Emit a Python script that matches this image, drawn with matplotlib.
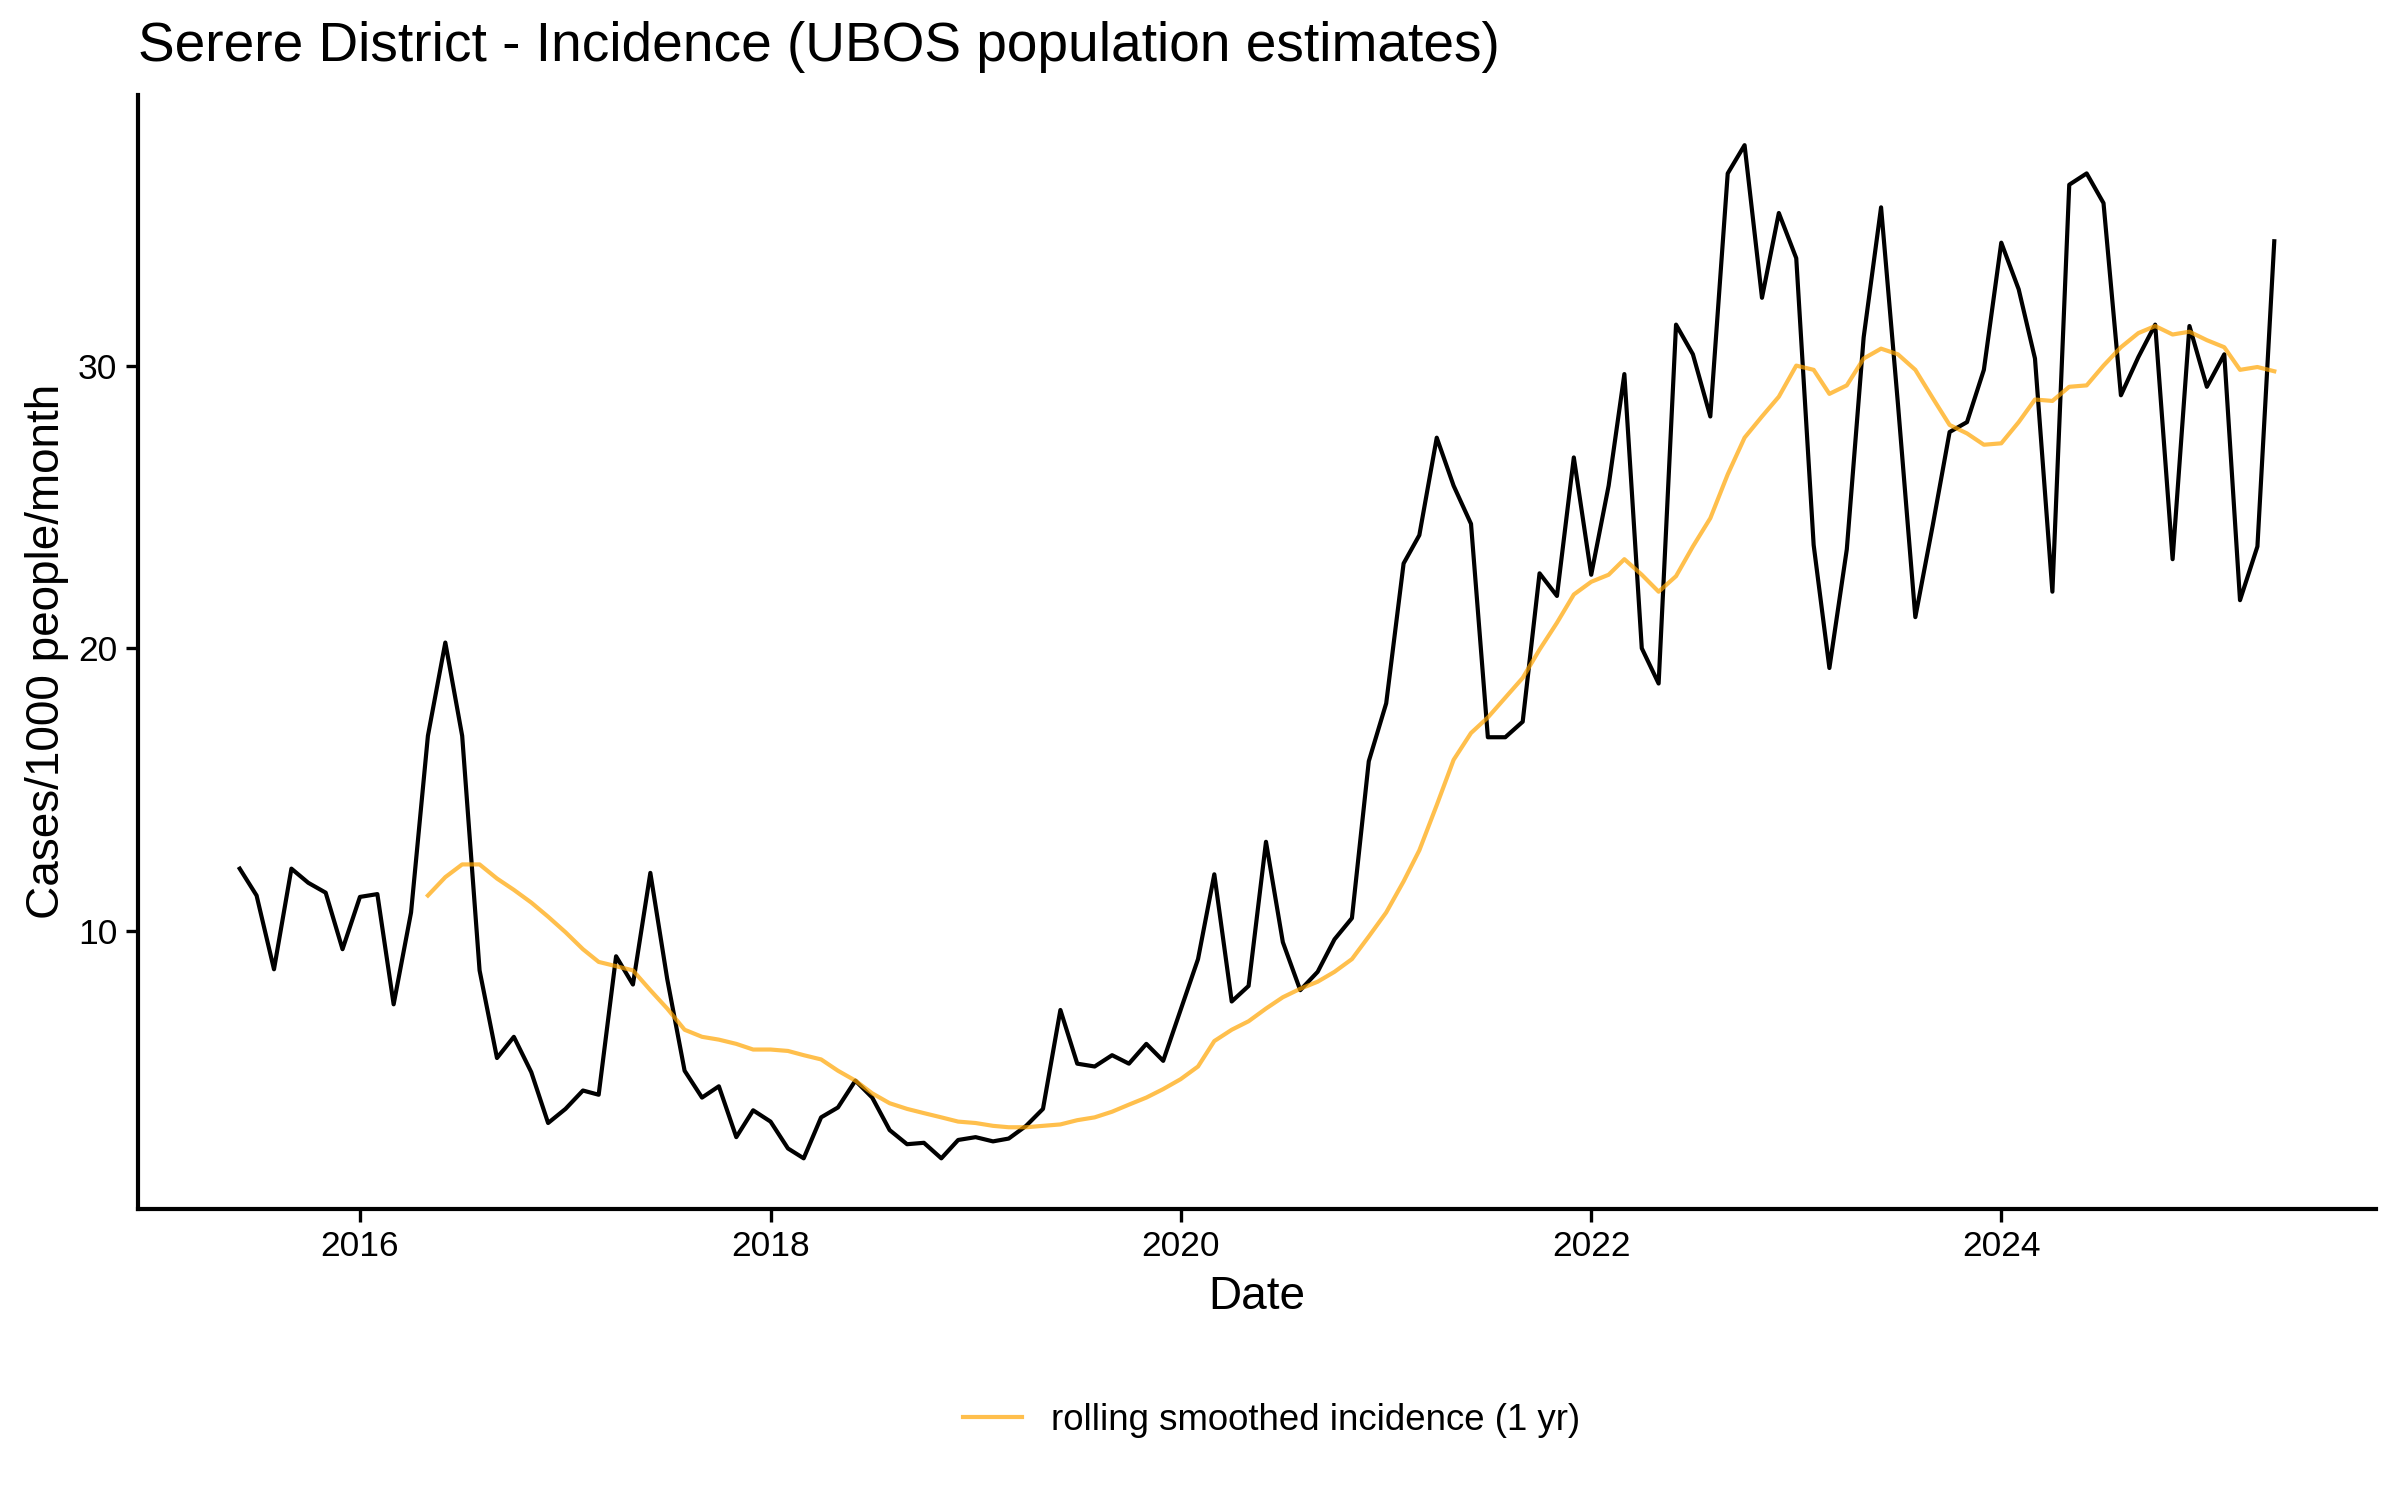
import numpy as np
import pandas as pd
import matplotlib
matplotlib.use("Agg")
import matplotlib.pyplot as plt
import matplotlib.dates as mdates

plt.rcParams['font.family'] = ['Liberation Sans', 'DejaVu Sans']

# Monthly series, June 2015 - May 2025
dates = pd.date_range('2015-06-01', periods=120, freq='MS')

incidence = [
    12.2, 11.25, 8.64, 12.2, 11.7, 11.35, 9.35,            # 2015
    11.2, 11.3, 7.4, 10.65, 16.9, 20.2, 16.9, 8.6, 5.5, 6.25, 5.0, 3.2,    # 2016
    3.7, 4.35, 4.2, 9.1, 8.1, 12.05, 8.3, 5.05, 4.1, 4.5, 2.7, 3.65,       # 2017
    3.25, 2.3, 1.95, 3.4, 3.75, 4.7, 4.1, 2.95, 2.45, 2.5, 1.95, 2.6,      # 2018
    2.7, 2.55, 2.65, 3.1, 3.7, 7.2, 5.3, 5.2, 5.6, 5.3, 6.0, 5.4,          # 2019
    7.2, 9.0, 12.0, 7.5, 8.05, 13.15, 9.6, 7.9, 8.55, 9.7, 10.45, 16.0,    # 2020
    18.05, 23.0, 24.0, 27.45, 25.75, 24.4, 16.85, 16.85, 17.4, 22.65, 21.85, 26.75,  # 2021
    22.6, 25.75, 29.7, 20.0, 18.75, 31.45, 30.4, 28.2, 36.8, 37.8, 32.4, 35.4,       # 2022
    33.8, 23.65, 19.3, 23.5, 31.0, 35.6, 28.65, 21.1, 24.35, 27.65, 28.0, 29.85,     # 2023
    34.35, 32.7, 30.25, 22.0, 36.4, 36.8, 35.75, 28.95, 30.3, 31.45, 23.15, 31.4,    # 2024
    29.25, 30.4, 21.7, 23.6, 34.4,                                                   # 2025
]

# 1-year rolling smoothed incidence, starts May 2016 (first 11 months empty)
rolling = [np.nan] * 11 + [
    11.25, 11.9, 12.35, 12.35, 11.85, 11.45, 11.0, 10.5,
    9.95, 9.35, 8.9, 8.75, 8.6, 7.9, 7.25, 6.5, 6.25, 6.15, 6.0, 5.8,
    5.8, 5.75, 5.6, 5.45, 5.05, 4.7, 4.25, 3.9, 3.7, 3.55, 3.4, 3.25,
    3.2, 3.1, 3.05, 3.05, 3.1, 3.15, 3.3, 3.4, 3.6, 3.85, 4.1, 4.4,
    4.75, 5.2, 6.1, 6.5, 6.8, 7.25, 7.65, 7.95, 8.2, 8.55, 9.0, 9.8,
    10.65, 11.75, 12.85, 14.45, 16.05, 17.0, 17.55, 18.25, 18.95, 19.95, 20.9, 21.9,
    22.35, 22.6, 23.15, 22.6, 22.0, 22.55, 23.6, 24.6, 26.15, 27.45, 28.2, 28.9,
    30.0, 29.85, 29.0, 29.3, 30.25, 30.6, 30.4, 29.85, 28.85, 27.9, 27.6, 27.2,
    27.25, 28.0, 28.8, 28.75, 29.25, 29.3, 30.0, 30.65, 31.15, 31.4, 31.1, 31.2,
    30.9, 30.65, 29.85, 29.95, 29.8,
]

fig = plt.figure(figsize=(8, 5), dpi=300)
ax = fig.add_axes([0.0575, 0.194, 0.9325, 0.743])

ax.plot(dates, incidence, color='black', lw=1.0)
ax.plot(dates, rolling, color='orange', alpha=0.7, lw=1.0,
        label='rolling smoothed incidence (1 yr)')

ax.margins(x=0.05, y=0.05)
ax.set_yticks([10, 20, 30])
ax.xaxis.set_major_locator(mdates.YearLocator(2))
ax.xaxis.set_major_formatter(mdates.DateFormatter('%Y'))

for side in ['top', 'right']:
    ax.spines[side].set_visible(False)
for side in ['left', 'bottom']:
    ax.spines[side].set_linewidth(1.0)
ax.tick_params(axis='both', direction='out', length=3, width=0.8,
               labelsize=8.5, colors='black', pad=2)

ax.set_xlabel('Date', fontsize=11, labelpad=3)
ax.set_ylabel('Cases/1000 people/month', fontsize=11, labelpad=2)
ax.set_title('Serere District - Incidence (UBOS population estimates)',
             loc='left', fontsize=13.2, pad=8)

fig.legend(loc='center', bbox_to_anchor=(0.53, 0.053), frameon=False,
           fontsize=8.8, handlelength=1.6, handletextpad=0.8)

fig.savefig('out.png', dpi=300)
